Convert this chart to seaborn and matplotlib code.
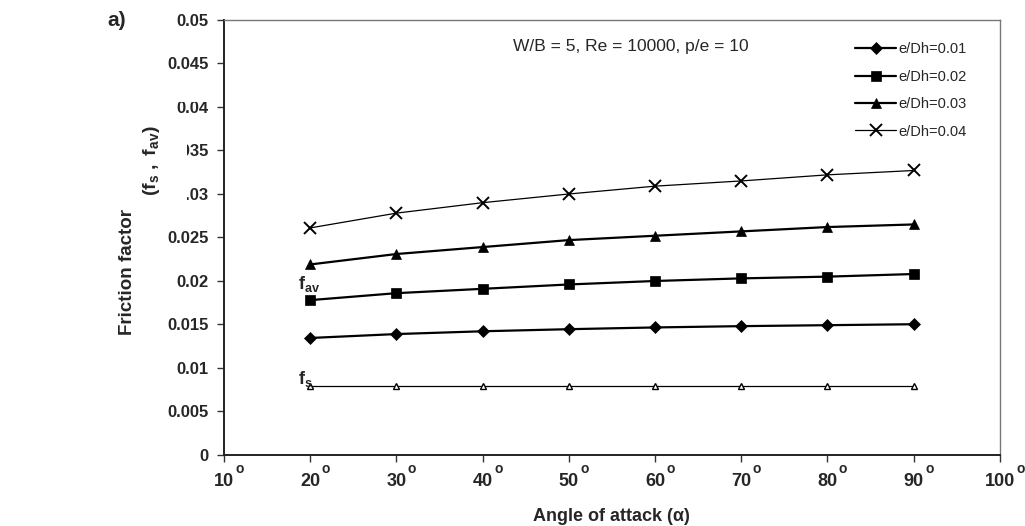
import numpy as np
import pandas as pd
import seaborn as sns
import matplotlib.pyplot as plt
from matplotlib.patches import Rectangle

angles = [20, 30, 40, 50, 60, 70, 80, 90]
f_001 = [0.01345, 0.0139, 0.01422, 0.01446, 0.01466, 0.01481, 0.01492, 0.01503]
f_002 = [0.0178, 0.0186, 0.0191, 0.0196, 0.0200, 0.0203, 0.0205, 0.0208]
f_003 = [0.0219, 0.0231, 0.0239, 0.0247, 0.0252, 0.0257, 0.0262, 0.0265]
f_004 = [0.0261, 0.0278, 0.0290, 0.0300, 0.0309, 0.0315, 0.0322, 0.0327]
f_smooth = [0.0079] * 8
series_names = ["e/Dh=0.01", "e/Dh=0.02", "e/Dh=0.03", "e/Dh=0.04"]
x_ticks = [10, 20, 30, 40, 50, 60, 70, 80, 90, 100]
y_ticks = [0, 0.005, 0.01, 0.015, 0.02, 0.025, 0.03, 0.035, 0.04, 0.045, 0.05]
y_ticklabels = ["0", "0.005", "0.01", "0.015", "0.02", "0.025", "0.03",
                "0.035", "0.04", "0.045", "0.05"]

sns.set_style("white")
plt.rcParams['font.family'] = ['Liberation Sans', 'DejaVu Sans']
plt.rcParams['mathtext.fontset'] = 'custom'
plt.rcParams['mathtext.rm'] = 'Liberation Sans'
plt.rcParams['mathtext.it'] = 'Liberation Sans'
plt.rcParams['mathtext.bf'] = 'Liberation Sans:bold'

df = pd.DataFrame({"angle": angles * 4,
                   "f": f_001 + f_002 + f_003 + f_004,
                   "series": np.repeat(series_names, len(angles))})

fig = plt.figure(figsize=(10.25, 5.26), dpi=100)
ax = fig.add_axes([0.2185, 0.135, 0.757, 0.827])

styles = {"e/Dh=0.01": ("D", 6, 1.6),
          "e/Dh=0.02": ("s", 7, 1.6),
          "e/Dh=0.03": ("^", 7, 1.6),
          "e/Dh=0.04": ("x", 8, 0.9)}
for name in series_names:
    m, ms, lw = styles[name]
    d = df[df.series == name]
    sns.lineplot(data=d, x="angle", y="f", ax=ax, color="black", marker=m,
                 markersize=ms, linewidth=lw, label=name,
                 markeredgecolor="black",
                 markeredgewidth=1.4 if m == "x" else 0.5)

# smooth channel, not in legend
sns.lineplot(x=angles, y=f_smooth, ax=ax, color="black", linewidth=0.9,
             marker="^", markersize=5, markerfacecolor="white",
             markeredgecolor="black", markeredgewidth=1.0, legend=False)

ax.set_xlim(10, 100)
ax.set_ylim(0, 0.05)
ax.set_xticks(x_ticks)
ax.set_xticklabels([str(t) for t in x_ticks], fontsize=13, fontweight="bold")
# degree sign as a raised "o" right of each tick label
for t in x_ticks:
    half_w = len(str(t)) * 10 / 2
    ax.annotate("o", xy=(t, 0), xycoords=("data", "axes fraction"),
                xytext=((half_w + 1.5) / 1.389, -10), textcoords="offset points",
                fontsize=10, fontweight="bold", ha="left", va="center")
ax.set_yticks(y_ticks)
ax.set_yticklabels(y_ticklabels, fontsize=12, fontweight="bold")
ax.tick_params(axis="both", direction="out", length=5, width=1, color="#333333",
               bottom=True, left=True, pad=6)
ax.tick_params(axis="x", pad=8)

for s in ["left", "bottom"]:
    ax.spines[s].set_color("#222222")
    ax.spines[s].set_linewidth(1.4)
for s in ["top", "right"]:
    ax.spines[s].set_color("#777777")
    ax.spines[s].set_linewidth(1.0)

ax.set_xlabel("Angle of attack (α)", fontsize=13, fontweight="bold", labelpad=13)
ax.set_ylabel("")
fig.text(127 / 1025, 1 - 272 / 526, "Friction factor", rotation=90,
         fontsize=13.5, fontweight="bold", ha="center", va="center")

# white box of the second y label that hides part of the tick labels
fig.patches.append(Rectangle((136 / 1025, 1 - 202 / 526), 51 / 1025, 88 / 526,
                             transform=fig.transFigure, facecolor="white",
                             edgecolor="none", zorder=5))
fig.patches.append(Rectangle((160 / 1025, 1 - 102 / 526), 55 / 1025, 5 / 526,
                             transform=fig.transFigure, facecolor="white",
                             edgecolor="none", zorder=5))
fig.text(152 / 1025, 1 - 161 / 526, r"$\mathbf{(f_{s}\ ,\ f_{av})}$",
         rotation=90, fontsize=14, ha="center", va="center", zorder=6)

fig.text(117 / 1025, 1 - 21 / 526, "a)", fontsize=15, fontweight="bold",
         ha="center", va="center")

ax.text(0.372, 0.94, "W/B = 5, Re = 10000, p/e = 10", transform=ax.transAxes,
        fontsize=12.5, ha="left", va="center")

ax.text(18.6, 0.0197, r"$\mathbf{f_{av}}$", fontsize=13, ha="left", va="center")
ax.text(18.6, 0.0087, r"$\mathbf{f_{s}}$", fontsize=13, ha="left", va="center")

leg = ax.legend(loc="upper left", bbox_to_anchor=(0.806, 0.962), frameon=False,
                fontsize=10.5, handlelength=2.8, labelspacing=0.92,
                handletextpad=0.15, borderaxespad=0)

fig.savefig("out.png", dpi=100)
